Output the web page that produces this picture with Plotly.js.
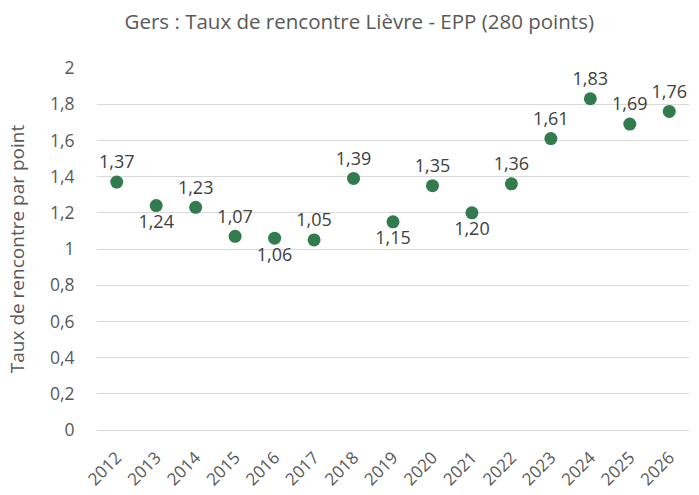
<!DOCTYPE html>
<html><head><meta charset="utf-8">
<script src="https://cdn.plot.ly/plotly-3.0.1.min.js"></script>
<style>html,body{margin:0;padding:0;background:#fff}#c{width:699px;height:495px}</style>
</head><body><div id="c"></div>
<script>
const years = ["2012","2013","2014","2015","2016","2017","2018","2019","2020","2021","2022","2023","2024","2025","2026"];
const values = [1.37,1.24,1.23,1.07,1.06,1.05,1.39,1.15,1.35,1.20,1.36,1.61,1.83,1.69,1.76];
const labelPos = ["top center","bottom center","top center","top center","bottom center","top center","top center","bottom center","top center","bottom center","top center","top center","top center","top center","top center"];
const yTicks = [0,0.2,0.4,0.6,0.8,1,1.2,1.4,1.6,1.8,2];
const yTickText = ["0","0,2","0,4","0,6","0,8","1","1,2","1,4","1,6","1,8","2"];

const fmt = v => v.toFixed(2).replace('.', ',');
const font = "Open Sans, Noto Sans, sans-serif";

Plotly.newPlot('c', [{
  x: years, y: values, type: 'scatter', mode: 'markers+text',
  marker: {color: '#317b4f', size: 13},
  text: values.map(fmt), textposition: labelPos,
  textfont: {family: font, size: 18, color: '#404040'},
  cliponaxis: false, hoverinfo: 'none'
}], {
  width: 699, height: 495,
  margin: {l: 97, r: 10, t: 68, b: 65},
  paper_bgcolor: '#fff', plot_bgcolor: '#fff',
  showlegend: false,
  title: {text: 'Gers : Taux de rencontre Lièvre - EPP (280 points)', font: {family: font, size: 20.5, color: '#595959'}, x: 0.514, xanchor: 'center', y: 0.955, yanchor: 'middle'},
  xaxis: {type: 'category', range: [-0.5, 14.5], tickangle: -45, tickfont: {family: font, size: 17, color: '#595959'}, showgrid: false, showline: false, zeroline: false, ticks: 'outside', ticklen: 10, tickcolor: 'rgba(0,0,0,0)'},
  yaxis: {range: [0, 2], tickvals: yTicks, ticktext: yTickText, tickfont: {family: font, size: 17.5, color: '#595959'}, gridcolor: '#d9d9d9', gridwidth: 1, zeroline: true, zerolinecolor: '#d9d9d9', zerolinewidth: 1, showline: false, ticks: 'outside', ticklen: 18, tickcolor: 'rgba(0,0,0,0)',
    title: {text: 'Taux de rencontre par point', font: {family: font, size: 19, color: '#595959'}, standoff: 20}},
}, {staticPlot: true});
</script></body></html>
